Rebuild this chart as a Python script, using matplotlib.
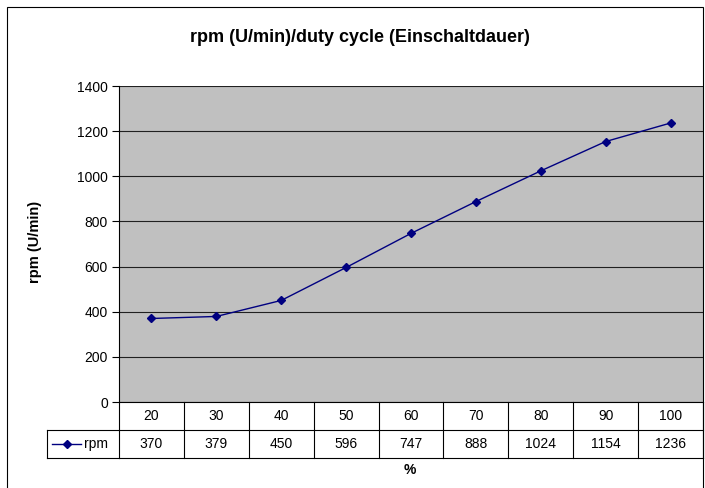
import matplotlib.pyplot as plt
import matplotlib.transforms as mtransforms
from matplotlib.lines import Line2D
from matplotlib.patches import Rectangle

plt.rcParams['font.family'] = ['Liberation Sans', 'DejaVu Sans']

# data
duty = ['20', '30', '40', '50', '60', '70', '80', '90', '100']
rpm = [370, 379, 450, 596, 747, 888, 1024, 1154, 1236]
yticks = [0, 200, 400, 600, 800, 1000, 1200, 1400]

W, H = 705, 488
fig = plt.figure(figsize=(W / 100, H / 100), dpi=100)

def fx(px):
	return px / W

def fy(py):
	return 1 - py / H

# outer chart border
fig.patches.append(Rectangle((fx(7), fy(492)), fx(703) - fx(7), fy(7) - fy(492),
	transform=fig.transFigure, fill=False, edgecolor='black', linewidth=0.8))

# plot area
ax = fig.add_axes([fx(119), fy(402), fx(703) - fx(119), fy(86) - fy(402)])
ax.set_facecolor('#c0c0c0')
x = list(range(len(duty)))
ax.plot(x, rpm, color='#000080', linewidth=1.0, marker='D', markersize=4.5,
	markerfacecolor='#000080', markeredgecolor='#000080', label='rpm')
ax.set_xlim(-0.5, len(duty) - 0.5)
ax.set_ylim(0, 1400)
ax.set_yticks(yticks)
ax.tick_params(axis='y', direction='out', length=5, width=0.8, labelsize=10, pad=3)
ax.set_xticks([])
ax.yaxis.grid(True, color='#202020', linewidth=0.8)
ax.set_axisbelow(True)
for s in ['right', 'top', 'bottom']:
	ax.spines[s].set_visible(False)
ax.spines['left'].set_linewidth(0.8)
ax.spines['left'].set_color('black')

# data table below the plot
trans = mtransforms.blended_transform_factory(ax.transData, ax.transAxes)
h_axes = fy(86) - fy(402)
def ay(py):
	return (fy(py) - fy(402)) / h_axes

y_top, y_mid, y_bot = ay(402), ay(430), ay(458)
lw = 0.8
n = len(duty)
# horizontal lines
ax.add_line(Line2D([-0.5, n - 0.5], [y_top, y_top], transform=trans, color='black', lw=lw, clip_on=False))
ax.add_line(Line2D([-0.5, n - 0.5], [y_bot, y_bot], transform=trans, color='black', lw=lw, clip_on=False))
# legend column box
x_leg = (fx(47) - ax.get_position().x0) / ax.get_position().width
ax.add_line(Line2D([x_leg, 1], [y_mid, y_mid], transform=ax.transAxes, color='black', lw=lw, clip_on=False))
ax.add_line(Line2D([x_leg, 0], [y_bot, y_bot], transform=ax.transAxes, color='black', lw=lw, clip_on=False))
ax.add_line(Line2D([x_leg, x_leg], [y_mid, y_bot], transform=ax.transAxes, color='black', lw=lw, clip_on=False))
# vertical lines
for i in range(n + 1):
	ax.add_line(Line2D([i - 0.5, i - 0.5], [y_top, y_bot], transform=trans, color='black', lw=lw, clip_on=False))

for i in range(n):
	ax.text(i, (y_top + y_mid) / 2, duty[i], transform=trans, ha='center', va='center', fontsize=10, clip_on=False)
	ax.text(i, (y_mid + y_bot) / 2, str(rpm[i]), transform=trans, ha='center', va='center', fontsize=10, clip_on=False)

# legend key in table
yk = (y_mid + y_bot) / 2
x1 = (fx(52) - ax.get_position().x0) / ax.get_position().width
x2 = (fx(81) - ax.get_position().x0) / ax.get_position().width
ax.add_line(Line2D([x1, x2], [yk, yk], transform=ax.transAxes, color='#000080', lw=1.0, clip_on=False))
ax.add_line(Line2D([(x1 + x2) / 2], [yk], transform=ax.transAxes, color='#000080', marker='D',
	markersize=4.5, clip_on=False))
ax.text(x2 + 0.005, yk, 'rpm', transform=ax.transAxes, ha='left', va='center', fontsize=10, clip_on=False)

# titles
fig.text(fx(360), fy(38), 'rpm (U/min)/duty cycle (Einschaltdauer)', ha='center', va='center',
	fontsize=13, fontweight='bold')
fig.text(fx(35), fy(242), 'rpm (U/min)', ha='center', va='center', rotation=90,
	fontsize=10.5, fontweight='bold')
fig.text(fx(410), fy(470), '%', ha='center', va='center', fontsize=10, fontweight='bold')

fig.savefig('out.png', dpi=100)
